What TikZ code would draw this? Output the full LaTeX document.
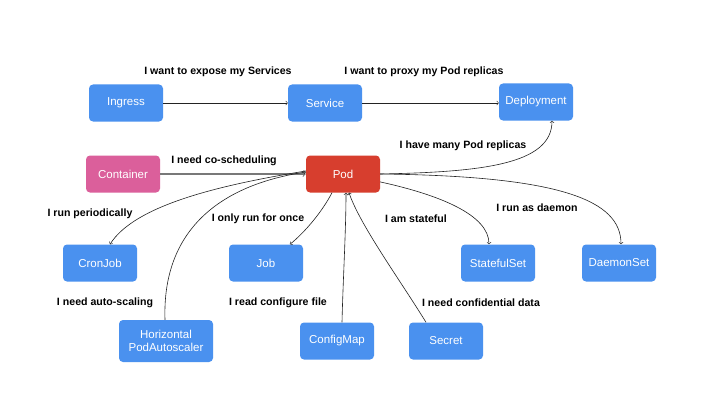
\documentclass[tikz,border=0pt]{standalone}
\usepackage{fontspec}
\setmainfont{Liberation Sans}
\usetikzlibrary{calc}

\definecolor{kblue}{RGB}{74,145,239}
\definecolor{kpink}{RGB}{219,95,155}
\definecolor{kred}{RGB}{215,62,46}
\definecolor{kline}{RGB}{35,35,35}
\definecolor{kgray}{RGB}{120,120,120}

\begin{document}
\begin{tikzpicture}[x=1pt,y=-1pt,
  res/.style={fill=kblue,text=white,rounded corners=4pt,minimum width=74pt,minimum height=37pt,inner sep=0pt,align=center,font=\fontsize{11.5}{13.5}\selectfont},
  note/.style={font=\fontsize{10.6}{12}\selectfont\bfseries},
  link/.style={->,kline,line width=0.6pt}]
  \useasboundingbox (0,0) rectangle (707,412);
  \fill[white] (0,0) rectangle (707,412);
  % resources
  \node(ingress)[res] at (126,103) {Ingress};
  \node(service)[res] at (325,103) {Service};
  \node(deploy)[res] at (536,102) {Deployment};
  \node(container)[res,fill=kpink] at (123,174) {Container};
  \node(pod)[res,fill=kred] at (343,174) {Pod};
  \node(cron)[res] at (100,263) {CronJob};
  \node(job)[res] at (266,263) {Job};
  \node(state)[res] at (498,263) {StatefulSet};
  \node(daemon)[res] at (619,263) {DaemonSet};
  \node(hpa)[res,minimum width=94pt,minimum height=42pt] at (166,341) {Horizontal\\PodAutoscaler};
  \node(cmap)[res] at (337,341) {ConfigMap};
  \node(secret)[res] at (446,341) {Secret};
  % connectors
  \draw [link] (ingress.east) -- (ingress.east -| service.west);
  \draw [link] (service.east) -- (service.east -| deploy.west);
  \draw [->,kgray,line width=1.1pt] (container.east) -- (pod.west);
  \draw [link] (pod.east) .. controls (480,172) and (552,165) .. ([xshift=16pt]deploy.south);
  \draw [link] (pod.east) .. controls (560,176) and (621,200) .. ([xshift=2pt]daemon.north);
  \draw [link] (pod.-12) .. controls (440,195) and (489,215) .. ([xshift=-9pt]state.north);
  \draw [link] ([xshift=-11pt]pod.south) .. controls (322,212) and (305,232) .. ([xshift=24pt]job.north);
  \draw [link] ([yshift=3pt]pod.west) .. controls (220,185) and (135,205) .. ([xshift=10pt]cron.north);
  \draw [link] ([xshift=-1pt]hpa.north) .. controls (162,230) and (220,185) .. ([yshift=2pt]pod.west);
  \draw [link] ([xshift=5pt]cmap.north) .. controls (343,280) and (346,230) .. ([xshift=3pt]pod.south);
  \draw [link] ([xshift=-20pt]secret.north) .. controls (400,280) and (360,225) .. ([xshift=6pt]pod.south);
  % notes
  \node(n1)[note] at (218,72) {I want to expose my Services};
  \node(n2)[note] at (424,72) {I want to proxy my Pod replicas};
  \node(n3)[note] at (224,161) {I need co-scheduling};
  \node(n4)[note] at (463,146) {I have many Pod replicas};
  \node(n5)[note] at (90,214) {I run periodically};
  \node(n6)[note] at (258,219) {I only run for once};
  \node(n7)[note] at (416,219) {I am stateful};
  \node(n8)[note] at (537,208) {I run as daemon};
  \node(n9)[note] at (105,303) {I need auto-scaling};
  \node(n10)[note] at (278,303) {I read configure file};
  \node(n11)[note] at (481,303) {I need confidential data};
\end{tikzpicture}
\end{document}
